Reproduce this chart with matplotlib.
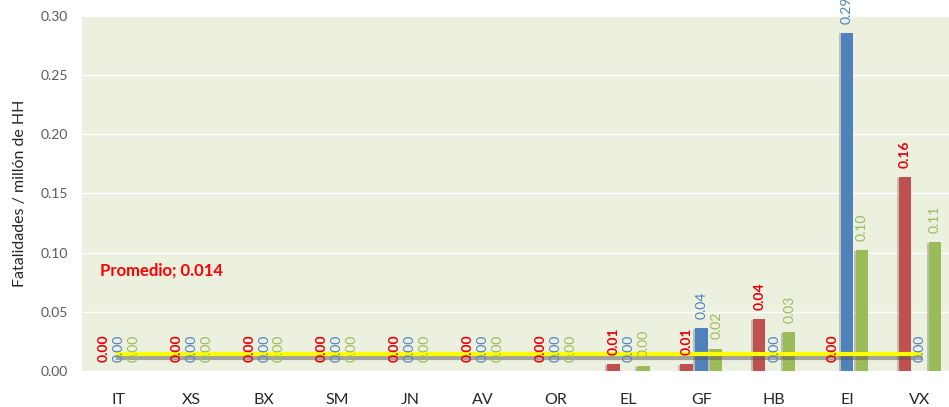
import numpy as np
import matplotlib
matplotlib.use("Agg")
import matplotlib.pyplot as plt
import matplotlib.patheffects as pe

categories = ["IT", "XS", "BX", "SM", "JN", "AV", "OR", "EL", "GF", "HB", "EI", "VX"]
serie_roja = [0, 0, 0, 0, 0, 0, 0, 0.006, 0.006, 0.044, 0, 0.164]
serie_azul = [0, 0, 0, 0, 0, 0, 0, 0, 0.036, 0, 0.286, 0]
serie_verde = [0, 0, 0, 0, 0, 0, 0, 0.004, 0.019, 0.033, 0.102, 0.109]
promedio = 0.014

plt.rcParams.update({"font.family": ["Lato", "DejaVu Sans"]})
fig = plt.figure(figsize=(9.49, 4.07), dpi=100)
ax = fig.add_axes([82 / 949, 36 / 407, 874.4 / 949, 355 / 407])
ax.set_facecolor("#EBF0DF")

x = np.arange(len(categories))
w = 0.17
off = 0.205
series = [
    (serie_roja, -off, "#C0504D", "#E8000B", "bold"),
    (serie_azul, 0.0, "#4F81BD", "#4F81BD", "normal"),
    (serie_verde, off, "#9BBB59", "#9BBB59", "normal"),
]
shadow = [pe.SimplePatchShadow(offset=(-1.5, -0.5), shadow_rgbFace="0.4", alpha=0.35), pe.Normal()]
for vals, dx, col, lcol, wt in series:
    bars = ax.bar(x + dx, vals, width=w, color=col, zorder=2)
    for b in bars:
        b.set_path_effects(shadow)
    for xi, v in zip(x + dx, vals):
        ax.annotate(f"{v:.2f}", (xi, v), xytext=(0, 6.5), textcoords="offset points",
                    rotation=90, ha="center", va="bottom", fontsize=10,
                    color=lcol, fontweight=wt, zorder=5, annotation_clip=False)

# linea de promedio
ax.plot(x, [promedio] * len(x), color="#FFFF00", lw=3.0, zorder=4,
        path_effects=[pe.SimpleLineShadow(offset=(0, -2.5), shadow_color="0.35", alpha=0.5), pe.Normal()])
ax.text(-0.25, 0.085, f"Promedio; {promedio}", color="#FF0000", fontsize=12,
        fontweight="bold", va="center", ha="left", zorder=5)

ax.set_xlim(-0.5, len(categories) - 0.5)
ax.set_ylim(0, 0.30)
ticks = np.arange(0, 0.301, 0.05)
ax.set_yticks(ticks)
ax.set_yticklabels([f"{t:.2f}" for t in ticks])
ax.set_xticks(x)
ax.set_xticklabels(categories)
ax.grid(axis="y", color="white", lw=1.0, zorder=0)
ax.set_axisbelow(True)
for s in ax.spines.values():
    s.set_visible(False)
ax.tick_params(axis="both", length=0)
ax.tick_params(axis="y", labelsize=10, labelcolor="#595959", pad=10)
ax.tick_params(axis="x", labelsize=11.5, labelcolor="#262626", pad=16)
ax.set_ylabel("Fatalidades / millón de HH", fontsize=11.5, color="#262626", labelpad=10)

fig.savefig("out.png", dpi=100)
